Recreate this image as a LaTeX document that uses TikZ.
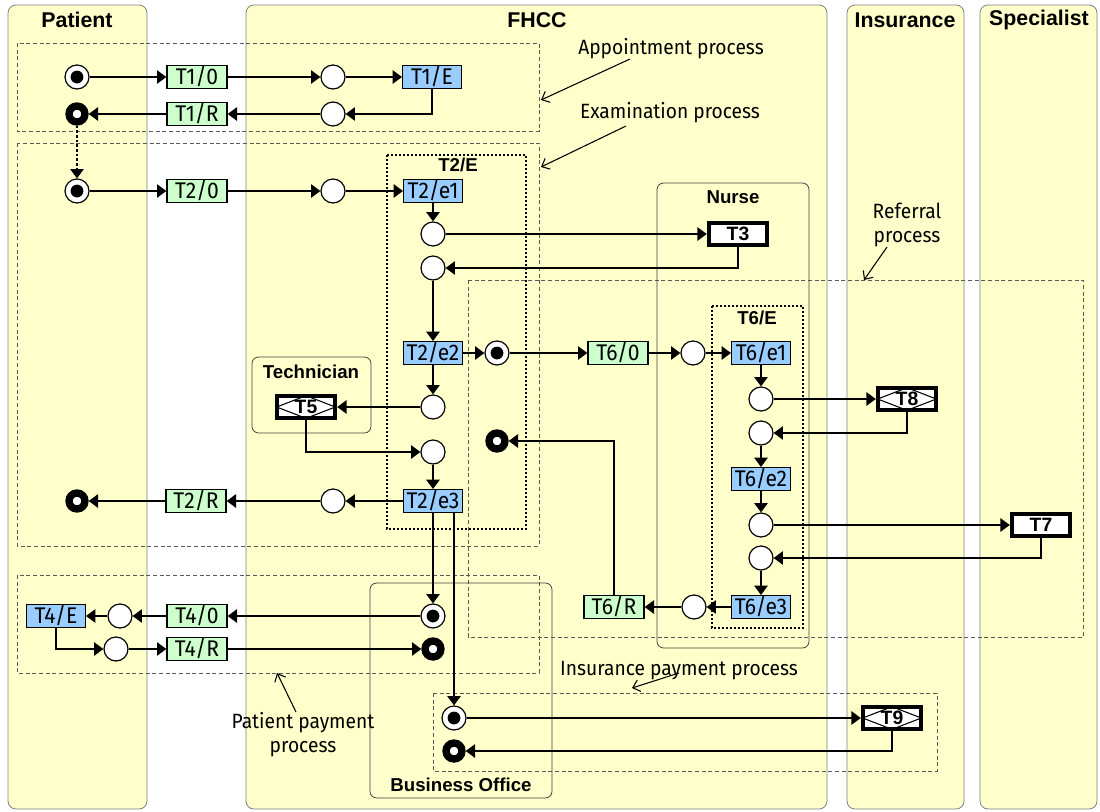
\documentclass[tikz,border=0pt]{standalone}
\usepackage{fontspec}
\setmainfont{Liberation Sans}
\newfontfamily\lblfont{Fira Sans}[FakeStretch=0.93]
\usepackage{tikz}
\usetikzlibrary{positioning}
\usetikzlibrary{arrows.meta}
\definecolor{lanefill}{HTML}{FFFFCC}
\definecolor{tgreen}{HTML}{CCFFCC}
\definecolor{tblue}{HTML}{99CCFF}

\begin{document}
\begin{tikzpicture}[x=0.75pt,y=-0.75pt,
  lane/.style={draw=black!50,fill=lanefill,line width=0.6pt,rounded corners=6pt},
  actorbox/.style={draw=black!75,line width=0.6pt,rounded corners=5pt},
  proc/.style={draw=black!65,line width=0.6pt,dash pattern=on 3pt off 2pt},
  tscope/.style={draw,line width=1.1pt,dash pattern=on 1.5pt off 1.5pt},
  title/.style={font=\bfseries\fontsize{16}{16}\selectfont},
  subtitle/.style={font=\bfseries\fontsize{14}{14}\selectfont},
  note/.style={font=\lblfont\fontsize{15.5}{18}\selectfont,align=center},
  ta/.style={rectangle,draw,line width=1pt,fill=tgreen,minimum width=45pt,minimum height=17pt,inner sep=0pt,font=\lblfont\fontsize{17}{17}\selectfont},
  te/.style={ta,fill=tblue,minimum width=44pt},
  place/.style={circle,draw,fill=white,line width=0.9pt,minimum size=18pt,inner sep=0pt},
  init/.style={place,path picture={\fill[black] (path picture bounding box.center) circle (4.8pt);}},
  done/.style={circle,draw,fill=white,line width=5.5pt,minimum size=12pt,inner sep=0pt},
  exec/.style={rectangle,draw,line width=2.8pt,fill=white,minimum width=44pt,minimum height=17pt,inner sep=0pt,font=\bfseries\fontsize{14.5}{14.5}\selectfont},
  multi/.style={exec,path picture={\draw[black,line width=0.8pt] (path picture bounding box.west)--(path picture bounding box.north)--(path picture bounding box.east)--(path picture bounding box.south)--cycle;}},
  flow/.style={line width=1.2pt,-{Triangle[length=7pt,width=10pt]}},
  pointer/.style={line width=0.8pt,-{Straight Barb[length=5pt,width=9pt]}}]
\useasboundingbox (0,0) rectangle (1100,811);

% lanes
\draw[lane] (8,5) rectangle (147,809);
\draw[lane] (246,5) rectangle (827,809);
\draw[lane] (847,5) rectangle (964,809);
\draw[lane] (980,5) rectangle (1097,809);
\node[title] (patient) at (77,20) {Patient};
\node[title] (fhcc) at (537,20) {FHCC};
\node[title] (insurance) at (905,20) {Insurance};
\node[title] (specialist) at (1039,20) {Specialist};

% processes
\draw[proc] (17,43) rectangle (539,131);
\draw[proc] (17,143) rectangle (539,546);
\draw[proc] (468,280) rectangle (1083,637);
\draw[proc] (17,575) rectangle (539,673);
\draw[proc] (433,693) rectangle (937,771);

\draw[actorbox] (252,357) rectangle (371,433);
\draw[actorbox] (657,183) rectangle (809,648);
\draw[actorbox] (370,583) rectangle (552,798);
\node[subtitle] (technician) at (311,372) {Technician};
\node[subtitle] (nurse) at (733,197) {Nurse};
\node[subtitle] (office) at (461,785) {Business Office};

\draw[tscope] (387,155) rectangle (526,529);
\draw[tscope] (712,306) rectangle (803,628);
\node[subtitle] (t2scope) at (458,165) {T2/E};
\node[subtitle] (t6scope) at (757,318) {T6/E};

\node[note] (appt) at (671,49) {Appointment process};
\node[note] (exam) at (670,113) {Examination process};
\node[note] (refer) at (907,225) {Referral\\process};
\node[note] (ppay) at (303,735) {Patient payment\\process};
\node[note] (ipay) at (679,671) {Insurance payment process};
\coordinate (apptend) at (541,100);
\coordinate (examend) at (541,167);
\coordinate (referend) at (864,280);
\coordinate (ppayend) at (277,673);
\coordinate (ipayend) at (632,688);
\draw[pointer] (630,59) -- (apptend);
\draw[pointer] (626,126) -- (examend);
\draw[pointer] (887,247) -- (referend);
\draw[pointer] (296,712) -- (ppayend);
\draw[pointer] (679,673) -- (ipayend);

% transactions
\node[init] (i1) at (77,77) {};
\node[ta] (t10) at (197,77) {T1/0};
\node[place] (c1a) at (333,77) {};
\node[te] (t1e) at (432,77) {T1/E};
\node[done] (r1) at (77,114) {};
\node[ta] (t1r) at (197,114) {T1/R};
\node[place] (c1b) at (333,114) {};

\node[init] (i2) at (77,191) {};
\node[ta] (t20) at (197,191) {T2/0};
\node[place] (c2a) at (333,191) {};
\node[te] (t2e1) at (433,191) {T2/e1};
\node[place] (c3a) at (433,234) {};
\node[exec] (t3) at (738,234) {T3};
\node[place] (c3b) at (433,268) {};
\node[te] (t2e2) at (433,353) {T2/e2};
\node[place] (c5a) at (433,407) {};
\node[multi] (t5) at (306,407) {T5};
\node[place] (c5b) at (433,452) {};
\node[te] (t2e3) at (433,501) {T2/e3};
\node[place] (c2b) at (333,501) {};
\node[ta] (t2r) at (196,501) {T2/R};
\node[done] (r2) at (77,501) {};

\node[init] (i6) at (497,353) {};
\node[ta] (t60) at (618,353) {T6/0};
\node[place] (c6a) at (693,353) {};
\node[te] (t6e1) at (761,353) {T6/e1};
\node[place] (c8a) at (761,399) {};
\node[multi] (t8) at (907,399) {T8};
\node[place] (c8b) at (761,433) {};
\node[te] (t6e2) at (761,479) {T6/e2};
\node[place] (c7a) at (761,525) {};
\node[exec] (t7) at (1041,525) {T7};
\node[place] (c7b) at (761,558) {};
\node[te] (t6e3) at (761,607) {T6/e3};
\node[place] (c6b) at (694,607) {};
\node[ta] (t6r) at (614,607) {T6/R};
\node[done] (r6) at (497,441) {};

\node[init] (i4) at (433,616) {};
\node[ta] (t40) at (197,616) {T4/0};
\node[place] (c4a) at (120,616) {};
\node[te] (t4e) at (56,616) {T4/E};
\node[place] (c4b) at (116,649) {};
\node[ta] (t4r) at (197,649) {T4/R};
\node[done] (r4) at (433,649) {};

\node[init] (i9) at (454,718) {};
\node[multi] (t9) at (892,718) {T9};
\node[done] (r9) at (454,751) {};

\draw[flow] (i1)--(t10); \draw[flow] (t10)--(c1a); \draw[flow] (c1a)--(t1e);
\draw[flow] (t1e.south) |- (c1b); \draw[flow] (c1b)--(t1r); \draw[flow] (t1r)--(r1);
\draw[flow,dash pattern=on 2pt off 1.5pt] (r1)--(i2);
\draw[flow] (i2)--(t20); \draw[flow] (t20)--(c2a); \draw[flow] (c2a)--(t2e1);
\draw[flow] (t2e1)--(c3a); \draw[flow] (c3a)--(t3); \draw[flow] (t3.south) |- (c3b);
\draw[flow] (c3b)--(t2e2); \draw[flow] (t2e2)--(c5a); \draw[flow] (c5a)--(t5);
\draw[flow] (t5.south) |- (c5b); \draw[flow] (c5b)--(t2e3);
\draw[flow] (t2e3)--(c2b); \draw[flow] (c2b)--(t2r); \draw[flow] (t2r)--(r2);
\draw[flow] (t2e2)--(i6); \draw[flow] (i6)--(t60); \draw[flow] (t60)--(c6a); \draw[flow] (c6a)--(t6e1);
\draw[flow] (t6e1)--(c8a); \draw[flow] (c8a)--(t8); \draw[flow] (t8.south) |- (c8b);
\draw[flow] (c8b)--(t6e2); \draw[flow] (t6e2)--(c7a); \draw[flow] (c7a)--(t7);
\draw[flow] (t7.south) |- (c7b); \draw[flow] (c7b)--(t6e3);
\draw[flow] (t6e3)--(c6b); \draw[flow] (c6b)--(t6r); \draw[flow] (t6r.north) |- (r6);
\draw[flow] (t2e3)--(i4); \draw[flow] (i9 |- t2e3.south)--(i9);
\draw[flow] (i4)--(t40); \draw[flow] (t40)--(c4a); \draw[flow] (c4a)--(t4e);
\draw[flow] (t4e.south) |- (c4b); \draw[flow] (c4b)--(t4r); \draw[flow] (t4r)--(r4);
\draw[flow] (i9)--(t9); \draw[flow] (t9.south) |- (r9);
\end{tikzpicture}
\end{document}
